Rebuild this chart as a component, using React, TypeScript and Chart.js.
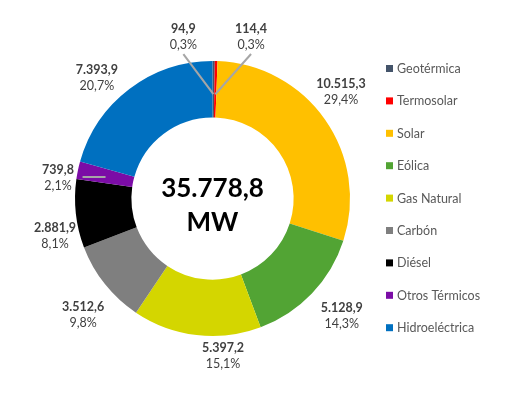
import React, { useEffect, useRef } from "react";
import { Chart, registerables } from "chart.js";

Chart.register(...registerables);

const categories = [
  "Geotérmica",
  "Termosolar",
  "Solar",
  "Eólica",
  "Gas Natural",
  "Carbón",
  "Diésel",
  "Otros Térmicos",
  "Hidroeléctrica",
];
const capacityMW = [94.9, 114.4, 10515.3, 5128.9, 5397.2, 3512.6, 2881.9, 739.8, 7393.9];
const totalMW = 35778.8;
const totalUnit = "MW";
const colors = [
  "#44546A",
  "#FF0000",
  "#FFC000",
  "#52A434",
  "#D4D600",
  "#7F7F7F",
  "#000000",
  "#7B0CA6",
  "#0070C0",
];

// label placement: [angle nudge in degrees (clockwise), distance beyond the outer radius]
const labelNudges: [number, number][] = [
  [-10.7, 26.5],
  [11.9, 28.5],
  [-4.8, 29.7],
  [-1.5, 37],
  [-10.5, 20],
  [-3.4, 36.4],
  [-7.1, 24.4],
  [-4.2, 18.4],
  [-6.5, 29.8],
];

const FONT = "Lato, 'Open Sans', sans-serif";

function fmt(v: number, dec = 1): string {
  const [i, d] = v.toFixed(dec).split(".");
  return i.replace(/\B(?=(\d{3})+(?!\d))/g, ".") + (d !== undefined ? "," + d : "");
}

const labelPlugin = {
  id: "customLabels",
  afterDraw(chart: any) {
    const ctx = chart.ctx as CanvasRenderingContext2D;
    const meta = chart.getDatasetMeta(0);
    const data = chart.data.datasets[0].data as number[];
    const total = data.reduce((a, b) => a + b, 0);
    let cx = 0;
    let cy = 0;
    ctx.save();
    meta.data.forEach((arc: any, i: number) => {
      const p = arc.getProps(["x", "y", "startAngle", "endAngle", "outerRadius", "innerRadius"], true);
      cx = p.x;
      cy = p.y;
      const mid = (p.startAngle + p.endAngle) / 2;
      const [dA, dR] = labelNudges[i];
      const a = mid + (dA * Math.PI) / 180;
      const r = p.outerRadius + dR;
      const lx = p.x + r * Math.cos(a);
      const ly = p.y + r * Math.sin(a);
      const ringMid = (p.innerRadius + p.outerRadius) / 2;
      const ex = p.x + ringMid * Math.cos(mid);
      const ey = p.y + ringMid * Math.sin(mid);
      // leader lines
      ctx.strokeStyle = "#A6A6A6";
      ctx.lineWidth = 2;
      if (i === 0 || i === 1) {
        ctx.beginPath();
        ctx.moveTo(lx, ly + 17);
        ctx.lineTo(p.x + (ringMid - 5) * Math.cos(mid), p.y + (ringMid - 5) * Math.sin(mid));
        ctx.stroke();
      } else if (i === 7) {
        ctx.beginPath();
        ctx.moveTo(ex - 23, ey + 1);
        ctx.lineTo(ex, ey + 1);
        ctx.stroke();
      }
      ctx.textAlign = "center";
      ctx.textBaseline = "middle";
      ctx.fillStyle = "#404040";
      ctx.font = `bold 12.5px ${FONT}`;
      ctx.fillText(fmt(data[i]), lx, ly - 8);
      ctx.font = `12.5px ${FONT}`;
      ctx.fillText(fmt((data[i] / total) * 100) + "%", lx, ly + 8);
    });
    // center total
    ctx.fillStyle = "#000000";
    ctx.textAlign = "center";
    ctx.textBaseline = "middle";
    ctx.font = `bold 26px ${FONT}`;
    ctx.fillText(fmt(totalMW), cx, cy - 10);
    ctx.fillText(totalUnit, cx, cy + 24);
    // legend
    const legX = 386;
    const legY0 = 68.5;
    const legStep = 32.4;
    chart.data.labels.forEach((lab: string, i: number) => {
      const y = legY0 + i * legStep;
      ctx.fillStyle = colors[i];
      ctx.fillRect(legX, y - 3.5, 7, 7);
      ctx.fillStyle = "#595959";
      ctx.textAlign = "left";
      ctx.font = `12.5px ${FONT}`;
      ctx.fillText(lab, legX + 11, y + 0.5);
    });
    ctx.restore();
  },
};

export default function App() {
  const ref = useRef<HTMLCanvasElement | null>(null);
  useEffect(() => {
    if (!ref.current) return;
    const chart = new Chart(ref.current, {
      type: "doughnut",
      data: {
        labels: categories,
        datasets: [
          {
            data: capacityMW,
            backgroundColor: colors,
            borderWidth: 0,
          },
        ],
      },
      options: {
        animation: false,
        responsive: false,
        devicePixelRatio: 1,
        cutout: "59%",
        layout: { padding: { left: 75, top: 61, right: 158, bottom: 57 } },
        plugins: {
          legend: { display: false },
          tooltip: { enabled: false },
        },
      },
      plugins: [labelPlugin],
    });
    return () => chart.destroy();
  }, []);
  return (
    <div style={{ position: "fixed", left: 0, top: 0, width: 508, height: 393, background: "#fff" }}>
      <canvas ref={ref} width={508} height={393} style={{ width: 508, height: 393 }} />
    </div>
  );
}
